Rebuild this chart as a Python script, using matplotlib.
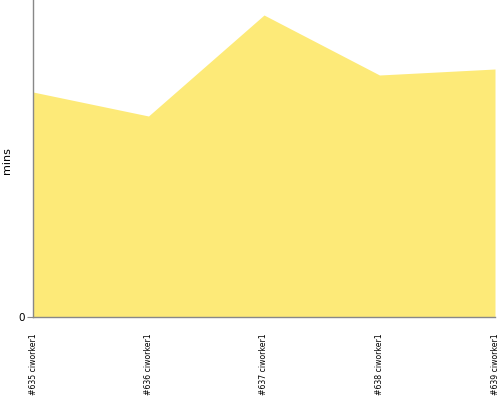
import matplotlib
matplotlib.use("Agg")
import matplotlib.pyplot as plt

builds = ["#635 ciworker1", "#636 ciworker1", "#637 ciworker1", "#638 ciworker1", "#639 ciworker1"]
mins = [22.5, 20.1, 30.2, 24.2, 24.8]
ymax = 31.7

fig = plt.figure(figsize=(5, 4), dpi=100)
ax = fig.add_axes([33/500, 83/400, 462/500, 317/400])
x = list(range(len(builds)))
ax.fill_between(x, 0, mins, color="#fdea78", linewidth=0)
ax.set_xlim(0, len(builds) - 1)
ax.set_ylim(0, ymax)
ax.set_xticks(x)
ax.set_xticklabels(builds, rotation=90, fontsize=5.6)
ax.tick_params(axis="x", length=0, pad=12)
ax.set_yticks([0])
ax.set_yticklabels(["0"], fontsize=7.5)
ax.tick_params(axis="y", length=4, color="#888888", pad=2)
for s in ["top", "right"]:
    ax.spines[s].set_visible(False)
for s in ["left", "bottom"]:
    ax.spines[s].set_color("#888888")
    ax.spines[s].set_linewidth(1)
ax.set_ylabel("mins", fontsize=8)
ax.yaxis.set_label_coords(-0.045, 0.495)
fig.savefig("out.png", dpi=100)
